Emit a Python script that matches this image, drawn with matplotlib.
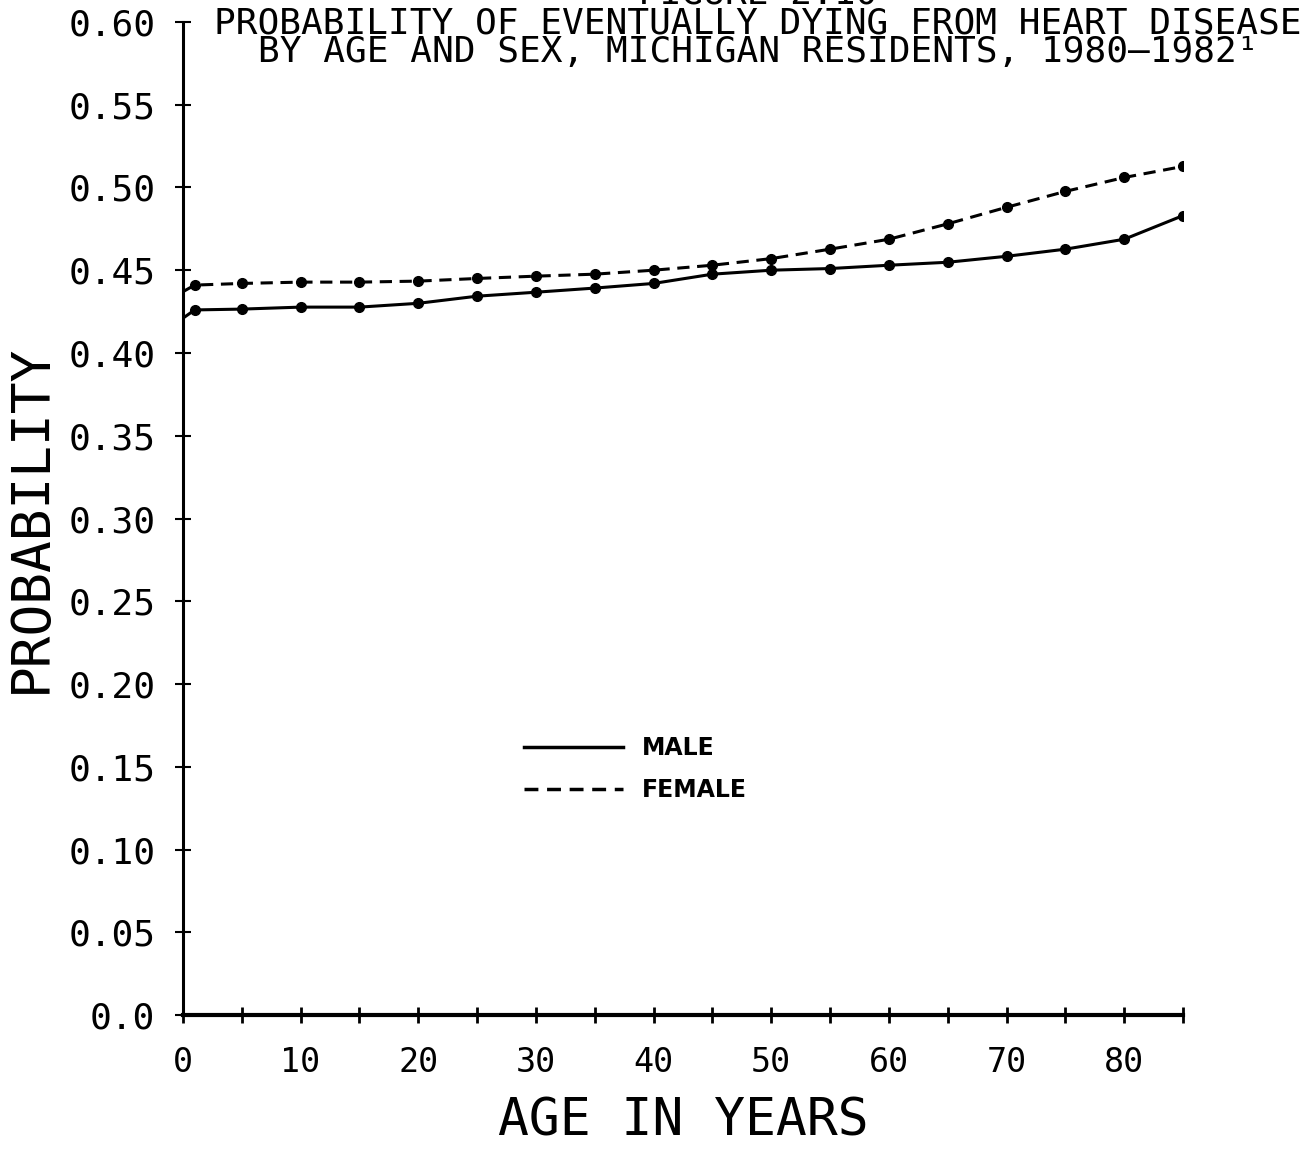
import matplotlib
matplotlib.use("Agg")
import matplotlib.pyplot as plt
from matplotlib.lines import Line2D

plt.rcParams['font.family'] = ['DejaVu Sans Mono', 'DejaVu Sans']

# ages and probabilities
ages = [0, 1, 5, 10, 15, 20, 25, 30, 35, 40, 45, 50, 55, 60, 65, 70, 75, 80, 85]
male = [0.421, 0.426, 0.4265, 0.4277, 0.4277, 0.430, 0.4343, 0.4367, 0.4392, 0.442,
        0.4476, 0.450, 0.451, 0.453, 0.4548, 0.4584, 0.4627, 0.4687, 0.483]
female = [0.437, 0.441, 0.442, 0.4428, 0.4428, 0.4434, 0.445, 0.4464, 0.4476, 0.450,
          0.453, 0.457, 0.4627, 0.4687, 0.478, 0.488, 0.4976, 0.506, 0.5127]

xticks = list(range(0, 90, 5))
xlabels = [str(t) if t % 10 == 0 else '' for t in xticks]
yticks = [0.0, 0.05, 0.10, 0.15, 0.20, 0.25, 0.30, 0.35, 0.40, 0.45, 0.50, 0.55, 0.60]
ylabels = ['0.0', '0.05', '0.10', '0.15', '0.20', '0.25', '0.30', '0.35', '0.40',
           '0.45', '0.50', '0.55', '0.60']

fig = plt.figure(figsize=(13.16, 11.51), dpi=100)
ax = fig.add_axes([0.139, 0.118, 0.76, 0.863])

ax.plot(ages, male, color='black', lw=2.2, marker='o', ms=7, markevery=range(1, len(ages)))
ax.plot(ages, female, color='black', lw=2.2, ls=(0, (4, 2.5)), marker='o', ms=7,
        markevery=range(1, len(ages)))

ax.set_xlim(0, 85)
ax.set_ylim(0, 0.60)
ax.set_xticks(xticks)
ax.set_xticklabels(xlabels)
ax.set_yticks(yticks)
ax.set_yticklabels(ylabels)

for s in ['top', 'right']:
    ax.spines[s].set_visible(False)
ax.spines['left'].set_linewidth(2.2)
ax.spines['bottom'].set_linewidth(3)

ax.tick_params(axis='x', direction='inout', length=12, width=2, pad=16, labelsize=24)
ax.tick_params(axis='y', direction='inout', length=12, width=1.5, pad=14, labelsize=26)

ax.set_xlabel('AGE IN YEARS', fontsize=37, labelpad=13)
ax.set_ylabel('PROBABILITY', fontsize=38, labelpad=8)

title = ('FIGURE 2.10\n'
         'PROBABILITY OF EVENTUALLY DYING FROM HEART DISEASE\n'
         'BY AGE AND SEX, MICHIGAN RESIDENTS, 1980\u20131982\u00b9')
fig.text(0.576, 1 - 23 / 1151, title, ha='center', va='center', fontsize=26,
         linespacing=0.82)

handles = [Line2D([], [], color='black', lw=2.5),
           Line2D([], [], color='black', lw=2.5, ls=(0, (4, 2.5)))]
ax.legend(handles, ['MALE', 'FEMALE'], loc='upper left', bbox_to_anchor=(0.32, 0.302),
          frameon=False, handlelength=4.2, handletextpad=0.8, labelspacing=0.75,
          prop={'family': 'DejaVu Sans', 'weight': 'bold', 'size': 17})

fig.savefig('out.png', dpi=100)
